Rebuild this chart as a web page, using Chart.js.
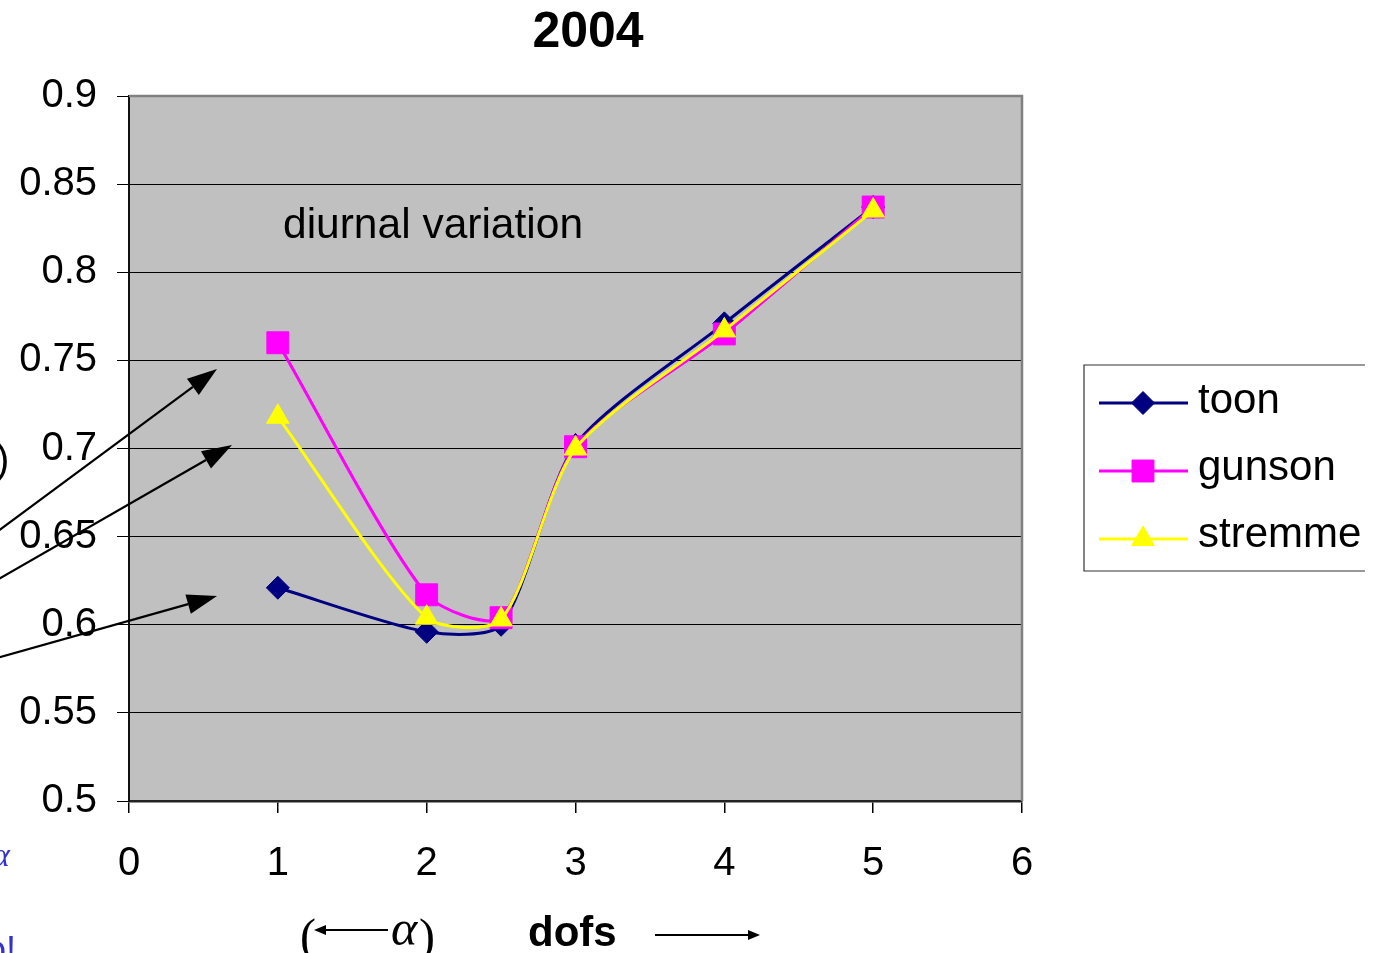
<!DOCTYPE html>
<html><head><meta charset="utf-8">
<script src="https://cdn.jsdelivr.net/npm/chart.js@4.4.1/dist/chart.umd.min.js"></script>
<style>html,body{margin:0;padding:0;background:#fff;overflow:hidden}#wrap{width:1379px;height:953px;position:relative}canvas{display:block}</style>
</head><body><div id="wrap"><canvas id="c" width="1379" height="953"></canvas></div>
<script>
// ---- data ----
const chartTitle = '2004';
const annotationText = 'diurnal variation';
const xValues = [1, 2, 2.5, 3, 4, 5];
const toon    = [0.621, 0.596, 0.600, 0.702, 0.771, 0.837];
const gunson  = [0.760, 0.617, 0.604, 0.701, 0.765, 0.837];
const stremme = [0.718, 0.604, 0.603, 0.700, 0.767, 0.835];
const seriesNames = ['toon', 'gunson', 'stremme'];
const xTickValues = [0, 1, 2, 3, 4, 5, 6];
const yTickValues = [0.5, 0.55, 0.6, 0.65, 0.7, 0.75, 0.8, 0.85, 0.9];

const FONT = '"Liberation Sans", Arial, sans-serif';
const SERIF = '"Liberation Serif", "Times New Roman", serif';
Chart.defaults.font.family = FONT;
Chart.defaults.color = '#000';

function pts(ys) { return xValues.map((x, i) => ({ x: x, y: ys[i] })); }

const styles = [
  { color: '#000080', pointStyle: 'rectRot', radius: 11.5 },
  { color: '#FF00FF', pointStyle: 'rect', radius: 15.5 },
  { color: '#FFFF00', pointStyle: 'triangle', radius: 13 }
];
const seriesData = [toon, gunson, stremme];

const datasets = seriesNames.map((name, i) => ({
  label: name,
  data: pts(seriesData[i]),
  showLine: true,
  borderColor: styles[i].color,
  backgroundColor: styles[i].color,
  pointBackgroundColor: styles[i].color,
  pointBorderColor: styles[i].color,
  pointBorderWidth: 1,
  pointStyle: styles[i].pointStyle,
  pointRadius: styles[i].radius,
  borderWidth: 3,
  tension: 0.25,
  order: 2 - i
}));

function arrow(ctx, x0, y0, x1, y1, headLen, headW) {
  const a = Math.atan2(y1 - y0, x1 - x0);
  const bx = x1 - headLen * Math.cos(a), by = y1 - headLen * Math.sin(a);
  ctx.beginPath(); ctx.moveTo(x0, y0); ctx.lineTo(bx, by); ctx.stroke();
  ctx.beginPath();
  ctx.moveTo(x1, y1);
  ctx.lineTo(bx + headW / 2 * Math.sin(a), by - headW / 2 * Math.cos(a));
  ctx.lineTo(bx - headW / 2 * Math.sin(a), by + headW / 2 * Math.cos(a));
  ctx.closePath(); ctx.fill();
}

const decor = {
  id: 'decor',
  beforeDraw(chart) {
    const { ctx, chartArea: a } = chart;
    ctx.save();
    ctx.fillStyle = '#fff';
    ctx.fillRect(0, 0, chart.width, chart.height);
    ctx.fillStyle = '#C0C0C0';
    ctx.fillRect(a.left, a.top, a.right - a.left, a.bottom - a.top);
    ctx.restore();
  },
  afterDraw(chart) {
    const { ctx, chartArea: a } = chart;
    ctx.save();
    // frame top & right (grey)
    ctx.strokeStyle = '#808080'; ctx.lineWidth = 2.5;
    ctx.beginPath();
    ctx.moveTo(a.left, a.top); ctx.lineTo(a.right, a.top); ctx.lineTo(a.right, a.bottom);
    ctx.stroke();

    // title
    ctx.fillStyle = '#000';
    ctx.textAlign = 'center'; ctx.textBaseline = 'alphabetic';
    ctx.font = 'bold 50px ' + FONT;
    ctx.fillText(chartTitle, 588, 47);

    // annotation
    ctx.textAlign = 'left';
    ctx.font = '42.5px ' + FONT;
    ctx.fillText(annotationText, 283, 238);

    // x-axis title: (<-- alpha)   dofs  -->
    ctx.font = '48px ' + SERIF;
    ctx.fillText('(', 300, 952);
    ctx.fillText(')', 419, 952);
    ctx.font = 'italic 50px ' + SERIF;
    ctx.fillText('\u03B1', 391, 945);
    ctx.strokeStyle = '#000'; ctx.fillStyle = '#000'; ctx.lineWidth = 2.2;
    arrow(ctx, 388, 930, 314, 930, 12, 10);
    arrow(ctx, 655, 935, 760, 935, 12, 10);
    ctx.font = 'bold 42px ' + FONT;
    ctx.fillText('dofs', 528, 946);

    // left-edge overlay arrows
    ctx.lineWidth = 2.2;
    arrow(ctx, -10, 537, 217, 369, 30, 20);
    arrow(ctx, -10, 584, 232, 445, 30, 20);
    arrow(ctx, -10, 660, 217, 596, 30, 20);
    ctx.font = '40px ' + FONT;
    ctx.fillText(')', -4, 473);
    ctx.fillStyle = '#3333CC';
    ctx.font = 'italic 34px ' + SERIF;
    ctx.fillText('\u03B1', -8, 866);
    ctx.font = '36px ' + FONT;
    ctx.fillText('p!', -14, 962);

    // legend
    const lx = 1084, ly = 365, lb = 571, lr = 1365;
    ctx.strokeStyle = '#333'; ctx.lineWidth = 1.2;
    ctx.beginPath();
    ctx.moveTo(lr, ly); ctx.lineTo(lx, ly); ctx.lineTo(lx, lb); ctx.lineTo(lr, lb);
    ctx.stroke();
    const rows = [403, 471, 539];
    const baselines = [413, 480, 547];
    chart.data.datasets.forEach((ds, i) => {
      const y = rows[i];
      ctx.strokeStyle = ds.borderColor; ctx.lineWidth = 3;
      ctx.beginPath(); ctx.moveTo(1099, y); ctx.lineTo(1188, y); ctx.stroke();
      ctx.fillStyle = ds.pointBackgroundColor; ctx.strokeStyle = ds.pointBorderColor; ctx.lineWidth = 1;
      Chart.helpers.drawPoint(ctx, { pointStyle: ds.pointStyle, radius: ds.pointRadius, rotation: 0, borderWidth: 1 }, 1143, y);
      ctx.fillStyle = '#000';
      ctx.font = '42px ' + FONT;
      ctx.textAlign = 'left';
      ctx.fillText(ds.label, 1198, baselines[i]);
    });
    ctx.restore();
  }
};

new Chart(document.getElementById('c'), {
  type: 'scatter',
  data: { datasets },
  options: {
    responsive: false,
    animation: false,
    devicePixelRatio: 1,
    events: [],
    layout: { padding: { left: 0, top: 96, right: 357, bottom: 0 } },
    plugins: { legend: { display: false }, title: { display: false }, tooltip: { enabled: false } },
    scales: {
      x: {
        type: 'linear', min: 0, max: 6,
        afterBuildTicks: s => { s.ticks = xTickValues.map(v => ({ value: v })); },
        afterFit: s => { s.height = 152; },
        grid: { drawOnChartArea: false, drawTicks: true, tickLength: 12, color: '#000', lineWidth: 1.5 },
        border: { display: true, color: '#222', width: 2.5 },
        ticks: { font: { size: 40, family: FONT }, color: '#000', padding: 27, callback: v => String(v) }
      },
      y: {
        type: 'linear', min: 0.5, max: 0.9,
        afterBuildTicks: s => { s.ticks = yTickValues.map(v => ({ value: v })); },
        afterFit: s => { s.width = 129; },
        grid: { drawOnChartArea: true, drawTicks: true, tickLength: 12, color: '#000', lineWidth: 1 },
        border: { display: true, color: '#111', width: 2 },
        ticks: { font: { size: 40, family: FONT }, color: '#000', padding: 20, callback: v => String(Math.round(v * 100) / 100) }
      }
    }
  },
  plugins: [decor]
});
</script>
</body></html>
